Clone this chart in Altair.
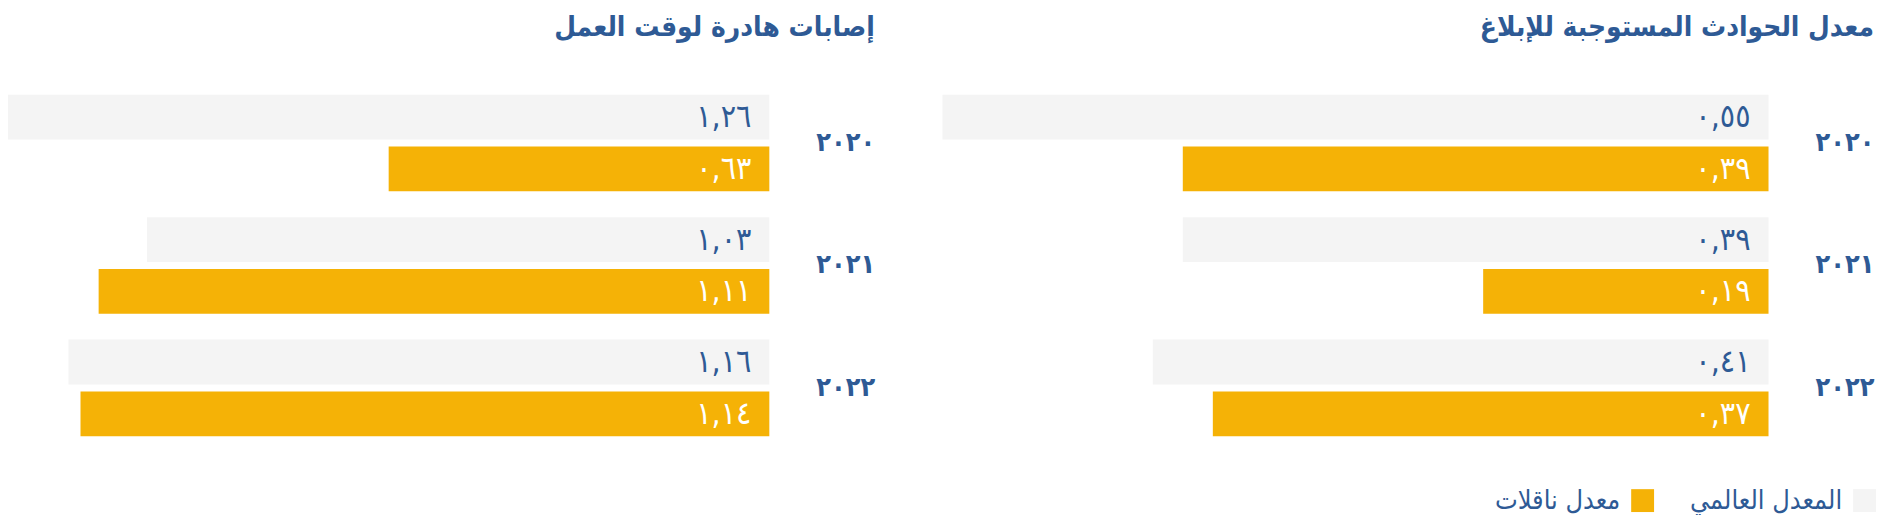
import pandas as pd
import altair as alt

# values
years = ["٢٠٢٠", "٢٠٢١", "٢٠٢٢"]
incident_global = [0.55, 0.39, 0.41]
incident_naqilat = [0.39, 0.19, 0.37]
lost_time_global = [1.26, 1.03, 1.16]
lost_time_naqilat = [0.63, 1.11, 1.14]

GLOBAL = "المعدل العالمي"
NAQILAT = "معدل ناقلات"
BLUE = "#2e5a95"
ORANGE = "#f5b206"
GRAY = "#f4f4f4"
FONT = "DejaVu Sans Condensed"

AR_DIGITS = str.maketrans("0123456789", "٠١٢٣٤٥٦٧٨٩")


def ar_label(v):
    return f"{v:.2f}".replace(".", ",").translate(AR_DIGITS)


def make_frame(glob, naq):
    rows = []
    for y, g, n in zip(years, glob, naq):
        rows.append({"year": y, "series": GLOBAL, "value": g, "label": ar_label(g)})
        rows.append({"year": y, "series": NAQILAT, "value": n, "label": ar_label(n)})
    return pd.DataFrame(rows)


def panel(df, title, xmax, width):
    y = alt.Y("year:N", sort=years, title=None,
              scale=alt.Scale(paddingInner=0.2114, paddingOuter=0.1057),
              axis=alt.Axis(orient="right", domain=False, ticks=False, tickSize=0,
                            labelAlign="right", labelBaseline="middle", labelPadding=106,
                            labelFontSize=27, labelFontWeight="bold", labelColor=BLUE,
                            labelFont=FONT))
    y_off = alt.YOffset("series:N", sort=[GLOBAL, NAQILAT],
                        scale=alt.Scale(paddingInner=0.135))
    x_scale = alt.Scale(domain=[0, xmax], reverse=True, nice=False)

    bars = alt.Chart(df).mark_bar().encode(
        x=alt.X("value:Q", scale=x_scale, axis=None),
        y=y,
        yOffset=y_off,
        color=alt.Color("series:N",
                        scale=alt.Scale(domain=[NAQILAT, GLOBAL], range=[ORANGE, GRAY]),
                        legend=alt.Legend(title=None, orient="none", direction="horizontal",
                                          legendX=1629, legendY=407,
                                          symbolType="square", symbolSize=529,
                                          symbolStrokeWidth=0, labelAlign="right",
                                          labelOffset={"expr": "-36"},
                                          columnPadding=36,
                                          labelFontSize=27, labelColor=BLUE,
                                          labelFont=FONT, labelLimit=0)),
    )
    labels = alt.Chart(df).mark_text(align="right", baseline="middle", dx=-18,
                                     fontSize=32, font=FONT).encode(
        x=alt.datum(0, scale=x_scale),
        y=y,
        yOffset=y_off,
        text="label:N",
        color=alt.condition(alt.datum.series == NAQILAT, alt.value("white"), alt.value(BLUE)),
    )
    return alt.layer(bars, labels).properties(
        width=width, height=369,
        title=alt.TitleParams(title, anchor="end", frame="bounds", fontSize=28,
                              fontWeight="bold", font=FONT, color=BLUE, offset=40),
    )


left = panel(make_frame(lost_time_global, lost_time_naqilat),
             "إصابات هادرة لوقت العمل", 1.26, 765)
right = panel(make_frame(incident_global, incident_naqilat),
              "معدل الحوادث المستوجبة للإبلاغ", 0.55, 830)

chart = alt.hconcat(left, right, spacing=68).properties(
    padding={"left": 0, "top": 5, "right": 0, "bottom": 0}
).configure_view(stroke=None)

chart.save("out.html", embed_options={"renderer": "svg", "actions": False})
